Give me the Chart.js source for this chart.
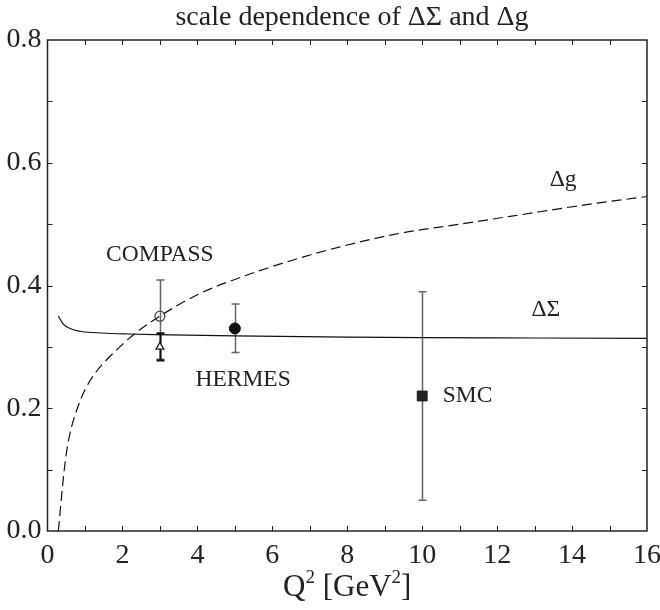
<!DOCTYPE html>
<html>
<head>
<meta charset="utf-8">
<script src="https://cdn.jsdelivr.net/npm/chart.js@4"></script>
<style>
  html, body { margin: 0; padding: 0; background: #fff; }
  #wrap { width: 660px; height: 610px; }
</style>
</head>
<body>
<div id="wrap"><canvas id="spinChart" width="660" height="610"></canvas></div>
<script>
// Delta g evolution curve (dashed)
const dgQ2 = [0.29, 0.40, 0.49, 0.60, 0.78, 1.0, 1.27, 1.58, 1.93, 2.34, 2.82, 4.0, 5.14, 6.47, 7.81, 9.4, 11.0, 12.6, 14.3, 16.0];
const dgVal = [0.0, 0.072, 0.121, 0.159, 0.197, 0.230, 0.257, 0.279, 0.300, 0.322, 0.343, 0.385, 0.413, 0.44, 0.463, 0.485, 0.50, 0.515, 0.531, 0.545];

// Delta Sigma evolution curve (solid)
const dsQ2 = [0.29, 0.42, 0.60, 0.91, 1.45, 2.16, 2.87, 5.0, 8.0, 10.0, 13.0, 16.0];
const dsVal = [0.350, 0.337, 0.330, 0.325, 0.3226, 0.321, 0.320, 0.318, 0.316, 0.315, 0.3145, 0.314];

// measurements: COMPASS (dg), COMPASS (dSigma), HERMES, SMC
const pointQ2 = [3, 3, 5, 10];
const pointVal = [0.35, 0.30, 0.33, 0.22];
const pointLo = [0.28, 0.278, 0.291, 0.05];
const pointHi = [0.409, 0.322, 0.370, 0.39];

const xTicks = [0, 2, 4, 6, 8, 10, 12, 14, 16];
const yTicks = [0.0, 0.2, 0.4, 0.6, 0.8];

const SERIF = "'Liberation Serif', 'DejaVu Serif', serif";

function pt(i) { return [{ x: pointQ2[i], y: pointVal[i] }]; }

// frame, inward ticks, error bars and text labels
const framePlugin = {
  id: 'frame',
  beforeDatasetsDraw(chart) {
    const { ctx, scales: { x, y } } = chart;
    ctx.save();
    pointQ2.forEach((q, i) => {
      const px = Math.round(x.getPixelForValue(q)) + 0.5;
      const top = y.getPixelForValue(pointHi[i]);
      const bot = y.getPixelForValue(pointLo[i]);
      ctx.strokeStyle = i === 1 ? '#111' : '#666';
      ctx.lineWidth = i === 1 ? 2 : 1.5;
      ctx.beginPath();
      ctx.moveTo(px, top); ctx.lineTo(px, bot);
      ctx.moveTo(px - 4, top); ctx.lineTo(px + 4, top);
      ctx.moveTo(px - 4, bot); ctx.lineTo(px + 4, bot);
      ctx.stroke();
    });
    ctx.restore();
  },
  afterDraw(chart) {
    const { ctx, chartArea: a, scales: { x, y } } = chart;
    ctx.save();
    ctx.strokeStyle = '#222';
    ctx.lineWidth = 1.5;
    ctx.strokeRect(a.left, a.top, a.right - a.left, a.bottom - a.top);
    ctx.lineWidth = 1;
    ctx.beginPath();
    for (let v = 1; v < 16; v++) {
      const px = Math.round(x.getPixelForValue(v)) + 0.5;
      ctx.moveTo(px, a.bottom); ctx.lineTo(px, a.bottom - 5);
      ctx.moveTo(px, a.top); ctx.lineTo(px, a.top + 5);
    }
    for (let k = 1; k < 8; k++) {
      const py = Math.round(y.getPixelForValue(k / 10)) + 0.5;
      ctx.moveTo(a.left, py); ctx.lineTo(a.left + 5, py);
      ctx.moveTo(a.right, py); ctx.lineTo(a.right - 5, py);
    }
    ctx.stroke();

    ctx.fillStyle = '#222';
    ctx.textAlign = 'center';
    ctx.textBaseline = 'alphabetic';
    ctx.font = '28px ' + SERIF;
    ctx.fillText('scale dependence of \u0394\u03A3 and \u0394g', 352, 25);

    ctx.textBaseline = 'middle';
    ctx.font = '23.5px ' + SERIF;
    const label = (txt, q, v, align) => {
      ctx.textAlign = align || 'center';
      ctx.fillText(txt, x.getPixelForValue(q), y.getPixelForValue(v));
    };
    label('COMPASS', 3.0, 0.45);
    label('HERMES', 5.22, 0.246);
    label('SMC', 10.55, 0.22, 'left');
    label('\u0394\u03A3', 13.3, 0.36);
    label('\u0394g', 13.76, 0.572);

    // axis title with superscripts
    const big = '31px ' + SERIF, small = '19px ' + SERIF;
    const parts = [['Q', big, 0], ['2', small, -13], [' [GeV', big, 0], ['2', small, -13], [']', big, 0]];
    let w = 0;
    parts.forEach(p => { ctx.font = p[1]; w += ctx.measureText(p[0]).width; });
    let cx = (a.left + a.right) / 2 - w / 2;
    ctx.textAlign = 'left';
    ctx.textBaseline = 'alphabetic';
    parts.forEach(p => {
      ctx.font = p[1];
      ctx.fillText(p[0], cx, 596 + p[2]);
      cx += ctx.measureText(p[0]).width;
    });
    ctx.restore();
  }
};

new Chart(document.getElementById('spinChart').getContext('2d'), {
  type: 'scatter',
  data: {
    datasets: [
      {
        label: '\u0394g',
        data: dgQ2.map((q, i) => ({ x: q, y: dgVal[i] })),
        showLine: true, borderColor: '#111', borderWidth: 1.2, borderDash: [10, 5],
        pointRadius: 0, cubicInterpolationMode: 'monotone'
      },
      {
        label: '\u0394\u03A3',
        data: dsQ2.map((q, i) => ({ x: q, y: dsVal[i] })),
        showLine: true, borderColor: '#111', borderWidth: 1.2,
        pointRadius: 0, cubicInterpolationMode: 'monotone'
      },
      { label: 'COMPASS g', data: pt(0), pointStyle: 'circle', pointRadius: 5,
        borderColor: '#444', borderWidth: 1.2, backgroundColor: 'rgba(0,0,0,0)' },
      { label: 'COMPASS S', data: pt(1), pointStyle: 'triangle', pointRadius: 4.5,
        borderColor: '#222', borderWidth: 1.3, backgroundColor: '#fff' },
      { label: 'HERMES', data: pt(2), pointStyle: 'circle', pointRadius: 5.5,
        borderColor: '#111', borderWidth: 1, backgroundColor: '#111' },
      { label: 'SMC', data: pt(3), pointStyle: 'rect', pointRadius: 7,
        borderColor: '#222', borderWidth: 1, backgroundColor: '#222' }
    ]
  },
  options: {
    responsive: false,
    animation: false,
    layout: { padding: { top: 40, right: 13, left: 0, bottom: 0 } },
    plugins: { legend: { display: false }, tooltip: { enabled: false } },
    scales: {
      x: {
        type: 'linear', min: 0, max: 16,
        afterBuildTicks: s => { s.ticks = xTicks.map(v => ({ value: v })); },
        afterFit: s => { s.height = 79; s.paddingLeft = 0; s.paddingRight = 0; },
        grid: { display: false, drawTicks: false },
        border: { display: false },
        ticks: { padding: 8, color: '#222', font: { family: SERIF, size: 28 }, maxRotation: 0 }
      },
      y: {
        type: 'linear', min: 0, max: 0.8,
        afterBuildTicks: s => { s.ticks = yTicks.map(v => ({ value: v })); },
        afterFit: s => { s.width = 47.5; s.paddingTop = 0; s.paddingBottom = 0; },
        grid: { display: false, drawTicks: false },
        border: { display: false },
        ticks: { padding: 6, color: '#222', font: { family: SERIF, size: 28 },
          callback: v => v.toFixed(1) }
      }
    }
  },
  plugins: [framePlugin]
});
</script>
</body>
</html>
